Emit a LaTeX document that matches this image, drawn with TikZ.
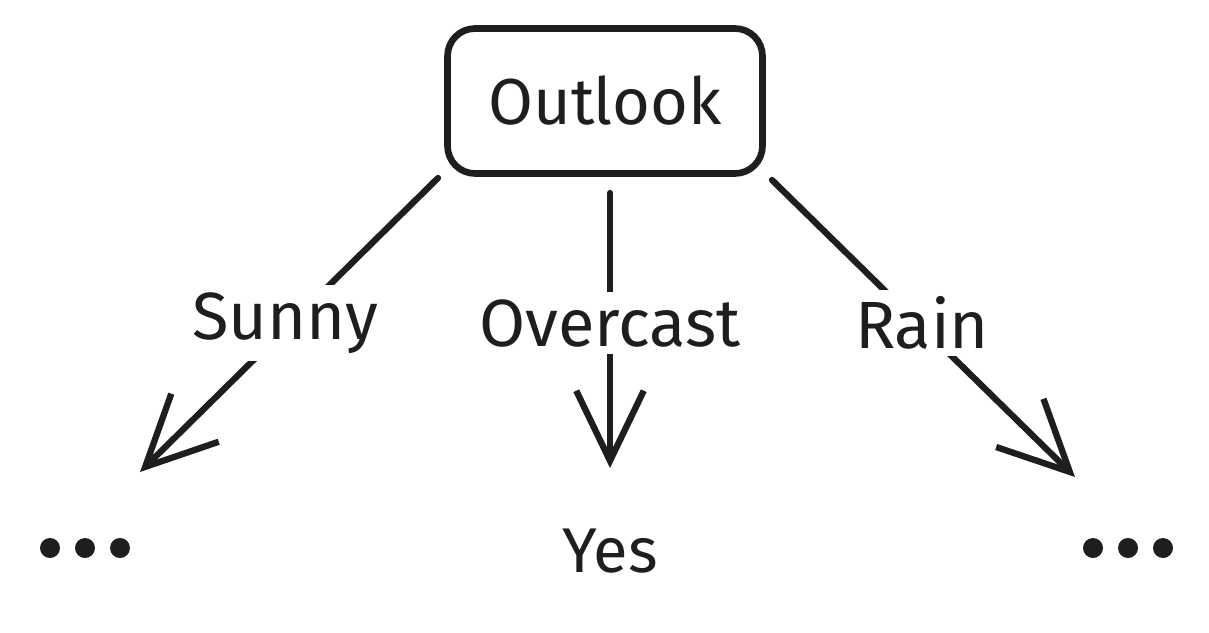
\documentclass[tikz,border=0pt]{standalone}
\usepackage{fontspec}
\setmainfont{Fira Sans}
\usetikzlibrary{arrows.meta}
\definecolor{ink}{HTML}{1E1E1E}
\tikzset{
  px/.style={x=0.02cm,y=-0.02cm},
  box/.style={draw=ink,line width=3.8pt,rounded corners=0.55cm,minimum width=6.3cm,minimum height=2.9cm,text=ink,font=\fontsize{37}{44}\selectfont},
  txt/.style={text=ink,font=\fontsize{36}{42}\selectfont,inner sep=1pt},
  lbl/.style={fill=white,text=ink,font=\fontsize{38}{44}\selectfont,inner sep=4pt},
  conn/.style={draw=ink,line width=3.6pt,line cap=round,-{Straight Barb[length=1.4cm,width=1.35cm,line width=3.6pt]}},
  dot/.style={circle,fill=ink,minimum size=0.4cm,inner sep=0pt}
}
\begin{document}
\begin{tikzpicture}[px]
\useasboundingbox (0,0) rectangle (1209,632);
\node[box] (outlook) at (605,101) {Outlook};
\coordinate (sA) at (438,178);
\coordinate (sB) at (140,472);
\coordinate (oA) at (610,193);
\coordinate (oB) at (610,468);
\coordinate (rA) at (772,180);
\coordinate (rB) at (1075,477);
\draw[conn] (sA) -- (sB);
\draw[conn] (oA) -- (oB);
\draw[conn] (rA) -- (rB);
\node[lbl] (sunny) at (285,323) {Sunny};
\node[lbl] (overcast) at (610,323) {Overcast};
\node[lbl] (rain) at (922,323) {Rain};
\node[dot] (l1) at (50,548) {};
\node[dot] (l2) at (85,548) {};
\node[dot] (l3) at (120,548) {};
\node[txt] (yes) at (610,551) {Yes};
\node[dot] (r1) at (1093,548) {};
\node[dot] (r2) at (1128,548) {};
\node[dot] (r3) at (1163,548) {};
\end{tikzpicture}
\end{document}
